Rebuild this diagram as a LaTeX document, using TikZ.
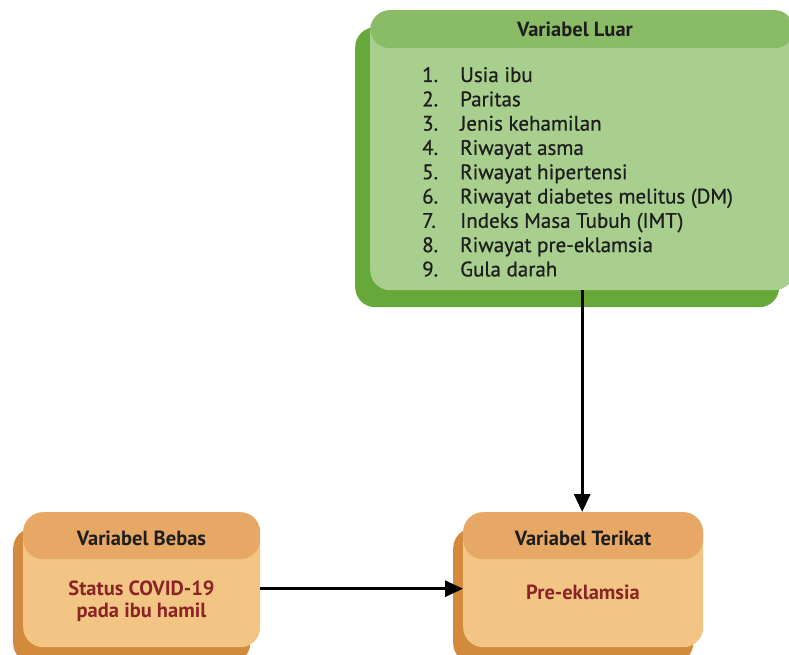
\documentclass[tikz,border=0pt]{standalone}
\usepackage{fontspec}
\setmainfont{PT Sans}
\newfontfamily\listfont[FakeBold=0.7]{PT Sans}
\usetikzlibrary{arrows.meta,positioning,shadows}
\definecolor{ink}{HTML}{1E1E1E}
\definecolor{greenhd}{HTML}{8ABB66}
\definecolor{greenbody}{HTML}{A9CF8E}
\definecolor{greenshade}{HTML}{67A83A}
\definecolor{orangehd}{HTML}{E8A865}
\definecolor{orangebody}{HTML}{F2C585}
\definecolor{orangeshade}{HTML}{D28A3C}
\definecolor{darkred}{HTML}{8B2525}
\tikzset{
  varbox/.style={rounded corners=20pt, anchor=north west, inner sep=0pt},
  luarbox/.style={varbox, fill=greenbody,
    general shadow={fill=greenshade, shadow xshift=-15pt, shadow yshift=-17pt},
    path picture={\fill[greenhd] (path picture bounding box.north west) rectangle ([yshift=-38pt]path picture bounding box.north east);}},
  orangebox/.style={varbox, fill=orangebody,
    general shadow={fill=orangeshade, shadow xshift=-10pt, shadow yshift=-16pt},
    path picture={\fill[orangehd] (path picture bounding box.north west) rectangle ([yshift=-47pt]path picture bounding box.north east);}},
  hdtext/.style={font=\bfseries\fontsize{20.5}{24}\selectfont, text=ink},
  bodytext/.style={font=\bfseries\fontsize{20.5}{22}\selectfont, text=darkred, align=center},
  itemtext/.style={font=\listfont\fontsize{21}{24}\selectfont, text=ink, anchor=base west, inner sep=0pt},
  arrow/.style={-{Triangle[length=18pt,width=16pt]}, line width=3pt, draw=black}
}

\begin{document}
\begin{tikzpicture}[x=1pt,y=-1pt]
\useasboundingbox (0,0) rectangle (789,655);
% variabel luar
\node[luarbox, minimum width=424pt, minimum height=280pt] (luar) at (370,10) {};
\node[hdtext] (luarhd) at (575,29) {Variabel Luar};
\foreach \n/\txt [count=\i] in {1./Usia ibu, 2./Paritas, 3./Jenis kehamilan, 4./Riwayat asma, 5./Riwayat hipertensi, 6./Riwayat diabetes melitus (DM), 7./Indeks Masa Tubuh (IMT), 8./Riwayat pre-eklamsia, 9./Gula darah}{
  \node[itemtext] (num\i) at (422,{82+24.3*(\i-1)}) {\n};
  \node[itemtext] (item\i) at (460,{82+24.3*(\i-1)}) {\txt};
}
% variabel bebas
\node[orangebox, minimum width=237pt, minimum height=135pt] (bebas) at (23,512) {};
\node[hdtext] (bebashd) at (141.5,538) {Variabel Bebas};
\node[bodytext] (bebasbody) at (141.5,601) {Status COVID-19\\pada ibu hamil};
% variabel terikat
\node[orangebox, minimum width=240pt, minimum height=135pt] (terikat) at (463,512) {};
\node[hdtext] (terikathd) at (583,538) {Variabel Terikat};
\node[bodytext] (terikatbody) at (583,592) {Pre-eklamsia};
% arrows
\draw[arrow] (luar.south) -- (luar.south |- terikat.north);
\draw[arrow] ([yshift=-9pt]bebas.east) -- ([yshift=-9pt]terikat.west);
\end{tikzpicture}
\end{document}
